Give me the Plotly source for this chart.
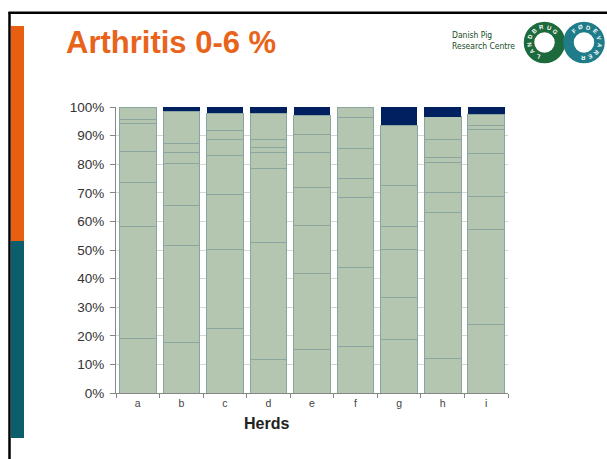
import math
import plotly.graph_objects as go

# ---- data (percent of pigs per herd, stacked from bottom) ----
herds = ["a", "b", "c", "d", "e", "f", "g", "h", "i"]
seg1 = [19.1, 17.8, 22.6, 11.8, 15.3, 16.2, 18.8, 12.0, 24.0]
seg2 = [39.2, 33.8, 27.7, 40.9, 26.6, 27.8, 14.7, 51.2, 33.2]
seg3 = [15.4, 13.9, 19.2, 25.9, 16.7, 24.4, 16.7, 7.0, 11.4]
seg4 = [10.8, 14.9, 13.6, 5.6, 13.3, 6.7, 8.1, 10.5, 15.2]
seg5 = [9.7, 3.8, 5.7, 1.7, 12.3, 10.5, 14.2, 1.7, 8.4]
seg6 = [1.5, 3.1, 3.0, 2.8, 6.3, 10.8, 21.1, 6.3, 1.4]
seg7 = [4.3, 11.3, 6.1, 9.2, 6.7, 3.6, 0.0, 7.9, 3.8]
arthritis = [0.0, 1.4, 2.1, 2.1, 2.8, 0.0, 6.4, 3.4, 2.6]
y_ticks = [0, 10, 20, 30, 40, 50, 60, 70, 80, 90, 100]
y_tick_labels = ["0%", "10%", "20%", "30%", "40%", "50%", "60%", "70%", "80%", "90%", "100%"]

light_series = [seg1, seg2, seg3, seg4, seg5, seg6, seg7]

W, H = 607, 459
L, R, T, B = 116, 508, 107, 393  # plot area in pixels


def px(x):
    return (x - L) / (R - L)


def py(y):
    return (B - y) / (B - T)


FILL = "#b5c6b0"
EDGE = "#8ba6a0"
NAVY = "#00205f"
FONT = "Liberation Sans, Arial, sans-serif"

fig = go.Figure()
for i, s in enumerate(light_series):
    fig.add_trace(go.Bar(x=herds, y=s, name=f"Group {i+1}",
                         marker=dict(color=FILL, line=dict(color=EDGE, width=1))))
fig.add_trace(go.Bar(x=herds, y=arthritis, name="Arthritis",
                     marker=dict(color=NAVY, line=dict(width=0))))

shapes = []
# frame lines
shapes.append(dict(type="line", xref="paper", yref="paper",
                   x0=px(8.5), x1=px(607), y0=py(12.8), y1=py(12.8),
                   line=dict(color="black", width=2.5)))
shapes.append(dict(type="line", xref="paper", yref="paper",
                   x0=px(9.5), x1=px(9.5), y0=py(12), y1=py(459),
                   line=dict(color="black", width=2.5)))
# side colour bars
shapes.append(dict(type="rect", xref="paper", yref="paper",
                   x0=px(11), x1=px(24), y0=py(26), y1=py(241),
                   fillcolor="#e8600f", line=dict(width=0)))
shapes.append(dict(type="rect", xref="paper", yref="paper",
                   x0=px(11), x1=px(24), y0=py(241), y1=py(438),
                   fillcolor="#0b5f6d", line=dict(width=0)))
# logo rings
rings = [(544.5, 42.5, "#1d6a3c"), (584.0, 42.5, "#1f7c88")]
rmid = 15.5
for cx, cy, col in rings:
    shapes.append(dict(type="circle", xref="paper", yref="paper",
                       x0=px(cx - rmid), x1=px(cx + rmid),
                       y0=py(cy + rmid), y1=py(cy - rmid),
                       line=dict(color=col, width=10.5), fillcolor="rgba(0,0,0,0)"))

annotations = []
annotations.append(dict(text="<b>Arthritis 0-6 %</b>", xref="paper", yref="paper",
                        x=px(64), y=py(42), xanchor="left", yanchor="middle",
                        showarrow=False, font=dict(family=FONT, size=31, color="#e8641a")))
annotations.append(dict(text="Danish Pig<br>Research Centre", xref="paper", yref="paper",
                        x=px(450), y=py(41), xanchor="left", yanchor="middle", align="left",
                        showarrow=False, font=dict(family="DejaVu Sans Condensed, " + FONT, size=8.5, color="#154d24")))
annotations.append(dict(text="<b>Herds</b>", xref="paper", yref="paper",
                        x=px(266), y=py(423), xanchor="center", yanchor="middle",
                        showarrow=False, font=dict(family=FONT, size=16, color="#222222")))

# ring letters
def ring_text(word, cx, cy, start, end):
    n = len(word)
    for k, ch in enumerate(word):
        th = start + (end - start) * k / (n - 1)
        t = math.radians(th)
        x = cx + rmid * math.cos(t)
        y = cy - rmid * math.sin(t)
        annotations.append(dict(text="<b>%s</b>" % ch, xref="paper", yref="paper",
                                x=px(x), y=py(y), xanchor="center", yanchor="middle",
                                textangle=90 - th, showarrow=False,
                                font=dict(family=FONT, size=6, color="white")))

ring_text("LANDBRUG", 544.5, 42.5, 245, 45)
ring_text("FØDEVARER", 584.0, 42.5, 130, -95)

fig.update_layout(
    width=W, height=H,
    margin=dict(l=L, r=W - R, t=T, b=H - B),
    paper_bgcolor="white", plot_bgcolor="white",
    barmode="stack", bargap=0.158,
    showlegend=False,
    shapes=shapes, annotations=annotations,
    font=dict(family=FONT),
)
fig.update_xaxes(
    showline=True, linecolor="#868686", linewidth=1,
    ticks="outside", tickson="boundaries", ticklen=4, tickcolor="#868686",
    tickfont=dict(family=FONT, size=10.5, color="#444444"),
    showgrid=False,
)
fig.update_yaxes(
    range=[0, 100], tickmode="array", tickvals=y_ticks, ticktext=y_tick_labels,
    showline=True, linecolor="#868686", linewidth=1,
    ticks="outside", ticklen=5, tickcolor="#868686",
    tickfont=dict(family=FONT, size=13.5, color="#333333"),
    showgrid=True, gridcolor="#d6d6d6", gridwidth=1,
    zeroline=False, ticklabelstandoff=3,
)

fig.write_html("out.html", config={"displayModeBar": False},
               post_script="document.body.style.margin='0px';document.body.style.overflow='hidden';")
